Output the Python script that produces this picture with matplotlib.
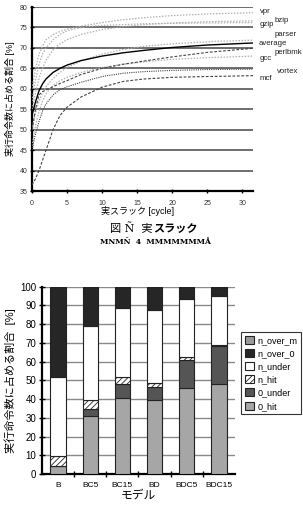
import matplotlib
matplotlib.use("Agg")
import matplotlib.pyplot as plt
from matplotlib.patches import Patch
import numpy as np

plt.rcParams['font.family'] = ['Liberation Sans', 'Noto Sans CJK JP', 'DejaVu Sans']
plt.rcParams['hatch.linewidth'] = 0.6

# ---------------- top chart data ----------------
slack = [0, 0.5, 1, 1.5, 2, 3, 4, 5, 7, 10, 13, 16, 20, 25, 31.5]
vpr     = [60, 65, 68.5, 70.5, 72, 73.2, 74, 74.6, 75.3, 76.2, 76.9, 77.4, 77.9, 78.3, 78.6]
bzip    = [55, 59, 62.5, 65, 67, 69.5, 71, 72, 73.3, 74.5, 75.2, 75.7, 76.1, 76.4, 76.6]
gzip    = [57, 62, 66, 68.5, 70, 72, 73.3, 74.2, 75, 75.5, 75.7, 75.9, 76, 76.1, 76.2]
parser  = [50, 54, 57, 59, 60.5, 62.5, 64, 65.2, 66.8, 68.5, 69.6, 70.4, 71, 71.5, 71.9]
average = [53.5, 56.8, 59.5, 61.2, 62.4, 64.0, 65.0, 65.8, 66.9, 68.0, 68.8, 69.4, 70.1, 70.7, 71.2]
perlbmk = [50, 55, 58.5, 59.3, 59.7, 60.5, 61.3, 62, 63.5, 65, 66, 66.8, 67.8, 68.9, 69.9]
gcc     = [46, 51, 54.5, 57, 58.8, 60.8, 62, 62.8, 64, 65.2, 66, 66.6, 67.2, 67.6, 68]
vortex  = [45, 49, 52, 54.5, 56.3, 58.5, 59.8, 60.5, 61.6, 63, 63.8, 64.2, 64.5, 64.7, 64.8]
mcf     = [36.5, 38, 40, 42.5, 45, 50, 53.5, 55.5, 58, 60.4, 61.8, 62.4, 62.8, 63, 63.2]

# label positions (y value, x offset px)
label_names = ['vpr', 'bzip', 'gzip', 'parser', 'average', 'perlbmk', 'gcc', 'vortex', 'mcf']
label_y = [79.0, 76.8, 75.6, 73.2, 71.0, 68.8, 67.3, 64.3, 62.4]
label_x = [32.5, 34.6, 32.4, 34.6, 32.3, 34.5, 32.4, 34.9, 32.4]

# ---------------- bottom chart data ----------------
models   = ['B', 'BC5', 'BC15', 'BD', 'BDC5', 'BDC15']
hit0     = [4.5, 31.0, 40.8, 39.6, 46.0, 48.0]
under0   = [0.0, 3.6, 7.2, 6.8, 15.0, 20.5]
nhit     = [5.0, 4.9, 4.0, 2.4, 1.5, 0.3]
nunder   = [42.5, 39.5, 36.5, 38.5, 30.8, 26.5]
nover0   = [48.0, 21.0, 11.5, 12.7, 6.7, 4.7]
noverm   = [0, 0, 0, 0, 0, 0]

W, H = 303, 505
fig = plt.figure(figsize=(W / 100, H / 100), dpi=100)

def fx(px):
    return px / W

def fy(py):
    return 1 - py / H

# ---------------- top axes ----------------
ax1 = fig.add_axes([fx(32), fy(191), fx(253) - fx(32), fy(7) - fy(191)])
ax1.set_xlim(0, 31.5)
ax1.set_ylim(35, 80)
for v in range(40, 81, 5):
    ax1.axhline(v, color='#555555', lw=1.2, zorder=1)

light = '#b0b0b0'
dark = '#444444'
styles = [
    (vpr, light, (0, (1.2, 1.2)), 0.9),
    (bzip, light, (0, (1.2, 1.2)), 0.9),
    (gzip, light, (0, (1.2, 1.2)), 0.9),
    (parser, light, (0, (1.2, 1.2)), 0.9),
    (gcc, light, (0, (1.2, 1.2)), 0.9),
    (perlbmk, dark, (0, (2.5, 1.5)), 0.8),
    (vortex, dark, (0, (1, 1)), 0.8),
    (mcf, dark, (0, (2.5, 1.5)), 0.8),
    (average, 'black', '-', 1.0),
]
for ys, c, ls, lw in styles:
    ax1.plot(slack, ys, color=c, ls=ls, lw=lw, zorder=3)

for s in ['top', 'right']:
    ax1.spines[s].set_visible(False)
ax1.spines['left'].set_linewidth(1.6)
ax1.spines['bottom'].set_linewidth(1.6)
ax1.set_xticks(range(0, 31, 5))
ax1.set_yticks(range(35, 81, 5))
ax1.tick_params(axis='both', direction='inout', length=3, width=1, labelsize=5, pad=2, colors='black')
ax1.tick_params(axis='x', pad=5)
for t in ax1.get_xticklabels() + ax1.get_yticklabels():
    t.set_color('#333333')

for name, yv, xv in zip(label_names, label_y, label_x):
    ax1.text(xv, yv, name, fontsize=5.6, va='center', ha='left', clip_on=False, color='#222222')

ax1.set_ylabel('実行命令数に占める割合 [%]', fontsize=6.5, labelpad=3)
fig.text(fx(138), fy(211), '実スラック [cycle]', fontsize=6.5, ha='center', va='center')
fig.text(fx(153), fy(228), '図 Ñ  実', fontsize=8, ha='right', va='center', family=['DejaVu Serif', 'Noto Sans CJK JP'])
fig.text(fx(153), fy(228), 'スラック', fontsize=8, ha='left', va='center', fontweight='bold', family=['Noto Sans CJK JP'])
fig.text(fx(155), fy(242), 'MNMÑ  4  MMMMMMMÅ', fontsize=5.5, ha='center', va='center', fontweight='bold', family=['DejaVu Serif'])

# ---------------- bottom axes ----------------
ax2 = fig.add_axes([fx(42), fy(474), fx(235) - fx(42), fy(286.7) - fy(474)])
x = np.arange(len(models))
ax2.set_xlim(-0.5, len(models) - 0.5)
ax2.set_ylim(0, 100)
for v in range(10, 101, 10):
    ax2.axhline(v, color='#8a8a8a', lw=1.0, zorder=1)

bw = 0.48
ec = '#222222'
bottoms = np.zeros(len(models))
layers = [
    (hit0, '#a6a6a6', None, '0_hit'),
    (under0, '#555555', None, '0_under'),
    (nhit, 'white', '//////', 'n_hit'),
    (nunder, 'white', None, 'n_under'),
    (nover0, '#262626', None, 'n_over_0'),
    (noverm, '#9a9a9a', None, 'n_over_m'),
]
for vals, col, hat, lab in layers:
    vals = np.array(vals, dtype=float)
    ax2.bar(x, vals, bw, bottom=bottoms, color=col, edgecolor=ec, hatch=hat, lw=0.8, zorder=3)
    bottoms += vals

for s in ['top', 'right']:
    ax2.spines[s].set_visible(False)
ax2.spines['left'].set_linewidth(1.6)
ax2.spines['bottom'].set_linewidth(1.6)
ax2.set_yticks(range(0, 101, 10))
ax2.set_xticks(x)
ax2.set_xticklabels(models)
ax2.set_xticks(np.arange(0.5, len(models) - 0.5, 1), minor=True)
ax2.tick_params(axis='x', which='major', length=0, labelsize=6, pad=6)
ax2.tick_params(axis='x', which='minor', direction='inout', length=4, width=1)
ax2.tick_params(axis='y', direction='inout', length=4, width=1, labelsize=7, pad=2)
ax2.set_ylabel('実行命令数に占める割合  [%]', fontsize=8, labelpad=3)
fig.text(fx(138), fy(496), 'モデル', fontsize=8.5, ha='center', va='center')

handles = [Patch(facecolor=col, edgecolor=ec, hatch=hat, lw=0.8, label=lab)
           for vals, col, hat, lab in reversed(layers)]
leg = fig.legend(handles=handles, loc='upper left', bbox_to_anchor=(fx(241), fy(332)),
                 fontsize=6.5, frameon=True, fancybox=False, edgecolor='black',
                 handlelength=1.0, handleheight=1.0, handletextpad=0.4,
                 labelspacing=0.45, borderpad=0.4, borderaxespad=0)
leg.get_frame().set_linewidth(0.8)

fig.savefig('out.png', dpi=100)
